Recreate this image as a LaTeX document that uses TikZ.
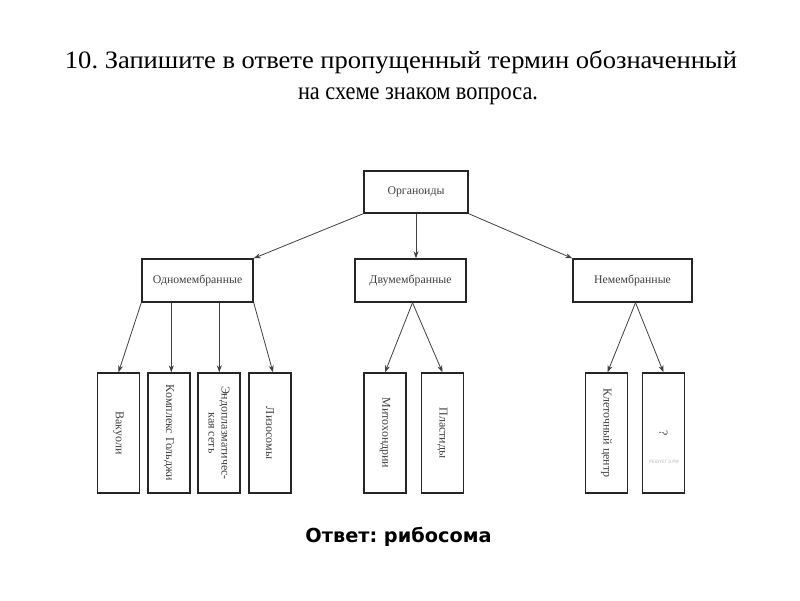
\documentclass[tikz,border=0pt]{standalone}
\usepackage{fontspec}
\usepackage{graphicx}
\setmainfont{Liberation Serif}
\newfontfamily\ansfont{DejaVu Sans}
\usetikzlibrary{arrows.meta}
\frenchspacing
\tikzset{
  box/.style={draw=black!85, line width=1.4pt, fill=white, inner sep=0pt, align=center, font=\fontsize{11.8}{13}\selectfont, text=black!75},
  hbox/.style={box, minimum width=111pt, minimum height=43pt},
  vbox/.style={box, minimum width=42pt, minimum height=120pt},
  vtext/.style={rotate=-90, font=\fontsize{12}{13}\selectfont, text=black!75, align=center, inner sep=0pt},
  conn/.style={draw=black!75, line width=0.8pt, -{Stealth[length=7pt,width=5pt]}},
  title/.style={anchor=base, inner sep=0pt, font=\fontsize{25}{30}\selectfont},
}
\begin{document}
\begin{tikzpicture}[x=1pt,y=-1pt]
\useasboundingbox (0,0) rectangle (800,600);
\fill[white] (0,0) rectangle (800,600);
% title
\node[title] (t1) at (401,68) {\resizebox{672pt}{\height}{10. Запишите в ответе пропущенный термин обозначенный}};
\node[title] (t2) at (418,99) {\resizebox{240pt}{\height}{на схеме знаком вопроса.}};
% top
\node[box, minimum width=104pt, minimum height=42pt] (org) at (416,192) {Органоиды};
\node[hbox] (odno) at (197.5,280.5) {Одномембранные};
\node[hbox] (dvu) at (410.5,280.5) {Двумембранные};
\node[hbox, minimum width=119pt] (nem) at (632.5,280.5) {Немембранные};
% bottom
\node[vbox] (vak) at (118.5,433) {};
\node[vtext] at (vak.center) {Вакуоли};
\node[vbox] (gol) at (169,433) {};
\node[vtext] at (gol.center) {Комплекс Гольджи};
\node[vbox] (eps) at (219,433) {};
\node[vtext] at (eps.center) {Эндоплазматичес-\\кая сеть};
\node[vbox] (liz) at (270,433) {};
\node[vtext] at (liz.center) {Лизосомы};
\node[vbox] (mit) at (385,433) {};
\node[vtext] at (mit.center) {Митохондрии};
\node[vbox] (pla) at (442.5,433) {};
\node[vtext] at (pla.center) {Пластиды};
\node[vbox] (kle) at (606.5,433) {};
\node[vtext] at (kle.center) {Клеточный центр};
\node[vbox] (q) at (663.5,433) {};
\node[vtext] at (q.center) {?};
\node[font=\ansfont\fontsize{4.5}{5}\selectfont, text=black!25] (wm) at (664,462) {РЕШУЕГЭ.РФ};
% connector points
\coordinate (s2) at ([xshift=30pt]odno.south west);
\coordinate (s3) at ([xshift=78pt]odno.south west);
\coordinate (sd) at ([xshift=2pt]dvu.south);
\coordinate (sn) at ([xshift=3pt]nem.south);
% connectors
\draw[conn] (org.south west) -- (odno.north east);
\draw[conn] (org.south) -- (dvu.north -| org.south);
\draw[conn] (org.south east) -- (nem.north west);
\draw[conn] (odno.south west) -- (vak.north);
\draw[conn] (s2) -- (s2 |- gol.north);
\draw[conn] (s3) -- (s3 |- eps.north);
\draw[conn] (odno.south east) -- ([xshift=3pt]liz.north);
\draw[conn] (sd) -- (mit.north);
\draw[conn] (sd) -- (pla.north);
\draw[conn] (sn) -- ([xshift=1pt]kle.north);
\draw[conn] (sn) -- (q.north);
% answer
\node[anchor=base, inner sep=0pt, font=\ansfont\bfseries\fontsize{19.3}{22}\selectfont] (ans) at (398.5,542) {Ответ: рибосома};
\end{tikzpicture}
\end{document}
